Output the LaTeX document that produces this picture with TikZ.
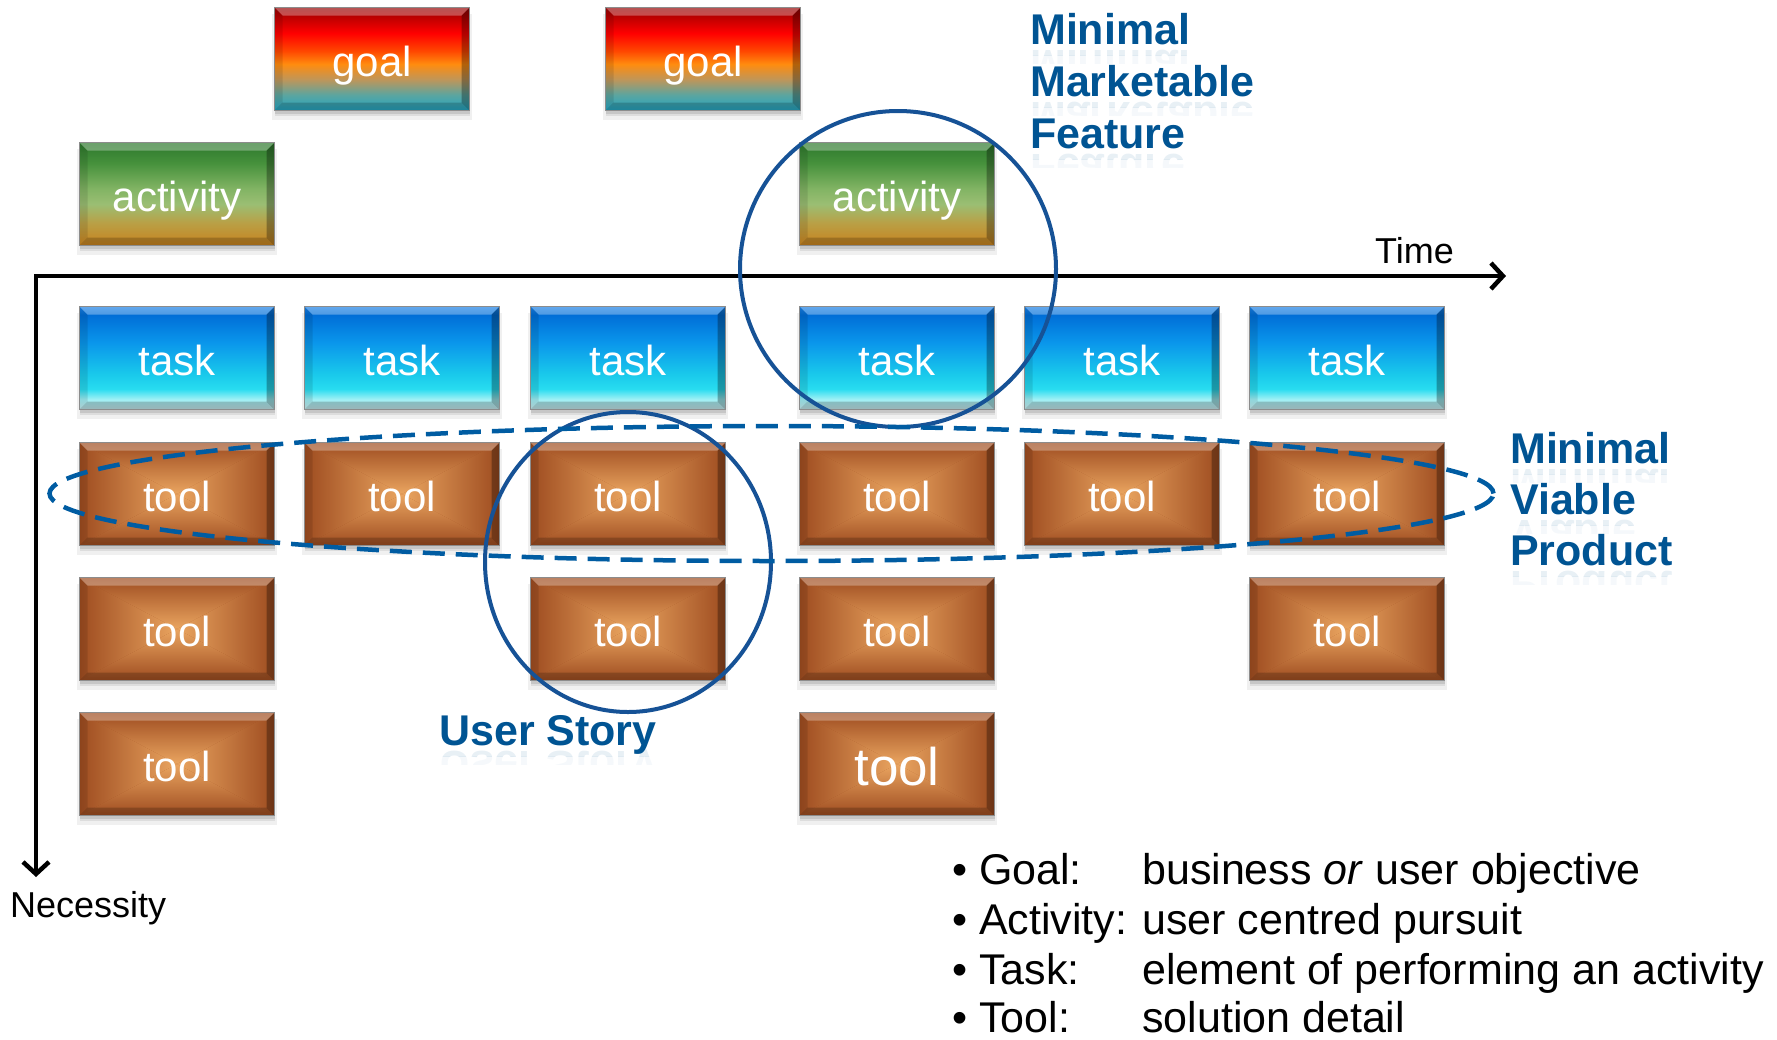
\documentclass[tikz,border=0pt]{standalone}
\usepackage{fontspec}
\setmainfont{Liberation Sans}
\usetikzlibrary{arrows.meta,shadows,shapes.geometric}

% label and outline colours
\definecolor{labelblue}{RGB}{0,84,147}
\definecolor{ringblue}{RGB}{22,82,150}
\definecolor{dashblue}{RGB}{0,92,162}
% tool box colours
\definecolor{toolEdge}{RGB}{158,76,32}
\definecolor{toolMid}{RGB}{234,165,96}
% goal gradient
\definecolor{gA}{RGB}{35,165,195}
\definecolor{gB}{RGB}{90,165,160}
\definecolor{gC}{RGB}{190,150,90}
\definecolor{gD}{RGB}{255,140,15}
\definecolor{gE}{RGB}{255,70,0}
\definecolor{gF}{RGB}{255,0,0}
\definecolor{gG}{RGB}{175,0,0}
\definecolor{gH}{RGB}{150,10,10}
% activity gradient
\definecolor{aA}{RGB}{200,130,30}
\definecolor{aB}{RGB}{185,160,70}
\definecolor{aC}{RGB}{155,190,115}
\definecolor{aD}{RGB}{130,180,100}
\definecolor{aE}{RGB}{70,145,60}
\definecolor{aF}{RGB}{45,120,45}
% task gradient
\definecolor{tA}{RGB}{195,228,232}
\definecolor{tB}{RGB}{160,240,245}
\definecolor{tC}{RGB}{40,220,240}
\definecolor{tD}{RGB}{25,200,235}
\definecolor{tE}{RGB}{10,150,235}
\definecolor{tF}{RGB}{0,110,215}
\definecolor{tG}{RGB}{30,130,230}

% vertical shadings, listed bottom to top; the box spans 25bp..75bp
\pgfdeclareverticalshading{goalshade}{100bp}{color(0bp)=(gA); color(25bp)=(gA);
  color(32.5bp)=(gB); color(40bp)=(gC); color(47.5bp)=(gD); color(54bp)=(gE);
  color(62.5bp)=(gF); color(72bp)=(gG); color(75bp)=(gH); color(100bp)=(gH)}
\pgfdeclareverticalshading{actshade}{100bp}{color(0bp)=(aA); color(25bp)=(aA);
  color(36bp)=(aB); color(45bp)=(aC); color(52.5bp)=(aD); color(65bp)=(aE);
  color(75bp)=(aF); color(100bp)=(aF)}
\pgfdeclareverticalshading{taskshade}{100bp}{color(0bp)=(tA); color(25bp)=(tA);
  color(30bp)=(tB); color(35bp)=(tC); color(42.5bp)=(tD); color(57.5bp)=(tE);
  color(71bp)=(tF); color(75bp)=(tG); color(100bp)=(tG)}

\newcommand\boxfont{\fontsize{42pt}{50pt}\selectfont}
\newcommand\bigboxfont{\fontsize{53pt}{60pt}\selectfont}
\newcommand\bluefont{\fontsize{43pt}{51pt}\selectfont\bfseries}
\newcommand\axisfont{\fontsize{36pt}{42pt}\selectfont}
\newcommand\legendfont{\fontsize{43pt}{51pt}\selectfont}

% bevelled rim drawn inside a box
\newcommand\bevelpaint{%
  \coordinate (bnw) at (path picture bounding box.north west);
  \coordinate (bne) at (path picture bounding box.north east);
  \coordinate (bsw) at (path picture bounding box.south west);
  \coordinate (bse) at (path picture bounding box.south east);
  \fill[white,opacity=0.30] (bnw) -- (bne) -- ([shift={(-8pt,-8pt)}]bne) -- ([shift={(8pt,-8pt)}]bnw) -- cycle;
  \fill[black,opacity=0.30] (bne) -- (bse) -- ([shift={(-8pt,8pt)}]bse) -- ([shift={(-8pt,-8pt)}]bne) -- cycle;
  \fill[black,opacity=0.20] (bse) -- (bsw) -- ([shift={(8pt,8pt)}]bsw) -- ([shift={(-8pt,8pt)}]bse) -- cycle;
  \fill[black,opacity=0.10] (bsw) -- (bnw) -- ([shift={(8pt,-8pt)}]bnw) -- ([shift={(8pt,8pt)}]bsw) -- cycle;
}
% rectangular gradient from the rim to the centre
\newcommand\toolpaint{%
  \coordinate (pnw) at (path picture bounding box.north west);
  \coordinate (pne) at (path picture bounding box.north east);
  \coordinate (psw) at (path picture bounding box.south west);
  \coordinate (pse) at (path picture bounding box.south east);
  \coordinate (pc) at (path picture bounding box.center);
  \shade[top color=toolEdge, bottom color=toolMid] (pnw) -- (pne) -- (pc) -- cycle;
  \shade[bottom color=toolEdge, top color=toolMid] (psw) -- (pse) -- (pc) -- cycle;
  \shade[left color=toolEdge, right color=toolMid] (pnw) -- (psw) -- (pc) -- cycle;
  \shade[right color=toolEdge, left color=toolMid] (pne) -- (pse) -- (pc) -- cycle;
}

\tikzset{
  x=1pt, y=-1pt,
  boxshadow/.style={
    general shadow={shadow xshift=0pt, shadow yshift=-8pt, shadow scale=1.03, fill=black, opacity=0.06},
    general shadow={shadow xshift=0pt, shadow yshift=-5pt, fill=black, opacity=0.08},
    general shadow={shadow xshift=0pt, shadow yshift=-3pt, fill=black, opacity=0.10}},
  box/.style={rectangle, minimum width=195pt, minimum height=103pt, inner sep=0pt,
    draw=black!45, line width=0.8pt, text=white, font=\boxfont,
    text height=39pt, text depth=4pt, boxshadow, path picture={\bevelpaint}},
  goalbox/.style={box, shading=goalshade},
  actbox/.style={box, shading=actshade},
  taskbox/.style={box, shading=taskshade},
  toolbox/.style={box, fill=toolEdge, path picture={\toolpaint\bevelpaint}},
  bigtool/.style={toolbox, font=\bigboxfont, text height=47pt, text depth=4pt},
  ring/.style={draw=ringblue, line width=4pt, inner sep=0pt},
  dashring/.style={ellipse, draw=dashblue, line width=4.5pt, inner sep=0pt,
    dash pattern=on 22pt off 11pt},
  axisline/.style={line width=4.5pt, line join=miter, black},
  bluetext/.style={text=labelblue, font=\bluefont, inner sep=0pt, anchor=base west},
  axislabel/.style={font=\axisfont, inner sep=0pt, anchor=base west},
  legend/.style={font=\legendfont, inner sep=0pt, anchor=base west},
}

% bold blue label with a faint mirror image underneath
\newcommand\bluelabel[4]{%
  \node[bluetext] (#1) at (#2,#3) {#4};
  \begin{scope}
    \clip (#2-6,#3+4) rectangle (#2+320,#3+11);
    \node[bluetext, yscale=-1, opacity=0.09] (#1-mirror) at (#2,#3+6) {#4};
  \end{scope}
  \begin{scope}
    \clip (#2-6,#3+11) rectangle (#2+320,#3+19);
    \node[bluetext, yscale=-1, opacity=0.04] (#1-fade) at (#2,#3+6) {#4};
  \end{scope}
}

\begin{document}
\begin{tikzpicture}
\useasboundingbox (0,0) rectangle (1777,1039);

% axes
\coordinate (origin) at (36,276);
\coordinate (timeend) at (1506,276);
\coordinate (needend) at (36,877);
\draw[axisline, {Straight Barb[length=12pt,width=26pt]}-{Straight Barb[length=12pt,width=26pt]}]
  (timeend) -- (origin) -- (needend);
\node[axislabel] (timelabel) at (1375,263) {Time};
\node[axislabel] (needlabel) at (10,917) {Necessity};

% goals and activities
\node[goalbox] (goal1) at (372,59) {goal};
\node[goalbox] (goal2) at (703,59) {goal};
\node[actbox] (act1) at (177,194) {activity};
\node[actbox] (act2) at (897,194) {activity};

% tasks
\node[taskbox] (task1) at (177,358) {task};
\node[taskbox] (task2) at (402,358) {task};
\node[taskbox] (task3) at (628,358) {task};
\node[taskbox] (task4) at (897,358) {task};
\node[taskbox] (task5) at (1122,358) {task};
\node[taskbox] (task6) at (1347,358) {task};

% tools
\node[toolbox] (tool11) at (177,494) {tool};
\node[toolbox] (tool12) at (402,494) {tool};
\node[toolbox] (tool13) at (628,494) {tool};
\node[toolbox] (tool14) at (897,494) {tool};
\node[toolbox] (tool15) at (1122,494) {tool};
\node[toolbox] (tool16) at (1347,494) {tool};
\node[toolbox] (tool21) at (177,629) {tool};
\node[toolbox] (tool23) at (628,629) {tool};
\node[toolbox] (tool24) at (897,629) {tool};
\node[toolbox] (tool26) at (1347,629) {tool};
\node[toolbox] (tool31) at (177,764) {tool};
\node[bigtool] (tool34) at (897,764) {tool};

% groupings
\node[ring, circle, minimum size=316pt] (mmfring) at (898,269) {};
\node[ring, ellipse, minimum width=286pt, minimum height=300pt] (storyring) at (628,562) {};
\node[dashring, minimum width=1444pt, minimum height=135pt] (mvpring) at (771.5,493.5) {};

% grouping labels
\bluelabel{mmf1}{1030}{44}{Minimal}
\bluelabel{mmf2}{1030}{96}{Marketable}
\bluelabel{mmf3}{1030}{148}{Feature}
\bluelabel{mvp1}{1510}{463}{Minimal}
\bluelabel{mvp2}{1510}{514}{Viable}
\bluelabel{mvp3}{1510}{565}{Product}
\bluelabel{story}{439}{745}{User Story}

% legend
\node[legend] (lgoal) at (952,884) {• Goal:};
\node[legend] (dgoal) at (1142,884) {business \textit{or} user objective};
\node[legend] (lact) at (952,934) {• Activity:};
\node[legend] (dact) at (1142,934) {user centred pursuit};
\node[legend] (ltask) at (952,984) {• Task:};
\node[legend] (dtask) at (1142,984) {element of performing an activity};
\node[legend] (ltool) at (952,1032) {• Tool:};
\node[legend] (dtool) at (1142,1032) {solution detail};
\end{tikzpicture}
\end{document}
